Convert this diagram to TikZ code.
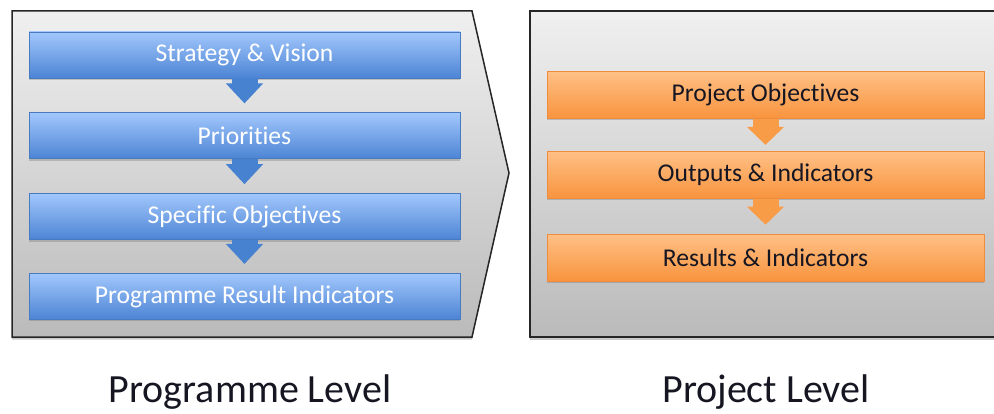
\documentclass[tikz,border=0pt]{standalone}
\usepackage{fontspec}
\setmainfont{Carlito}[Ligatures=NoCommon]
\usetikzlibrary{arrows.meta,positioning,shadows}
\definecolor{bluetop}{RGB}{162,199,252}
\definecolor{bluebot}{RGB}{76,132,212}
\definecolor{blueline}{RGB}{72,122,192}
\definecolor{blueflow}{RGB}{70,130,208}
\definecolor{orangetop}{RGB}{255,192,134}
\definecolor{orangebot}{RGB}{248,148,62}
\definecolor{orangeline}{RGB}{238,140,60}
\definecolor{orangeflow}{RGB}{248,156,72}
\definecolor{lvltext}{RGB}{22,22,34}
\begin{document}
\begin{tikzpicture}[x=1pt,y=-1pt,
    level/.style={draw=black!85, line width=1.5pt, top color=black!6, bottom color=black!27,
      drop shadow={shadow xshift=0pt, shadow yshift=-2.5pt, opacity=.35, fill=black!60}},
    box/.style={line width=.8pt, minimum height=46pt, inner sep=0pt,
      font=\fontsize{25.6}{30}\selectfont,
      drop shadow={shadow xshift=0pt, shadow yshift=-2pt, opacity=.3, fill=black!60}},
    bluebox/.style={box, draw=blueline, top color=bluetop, bottom color=bluebot,
      minimum width=431pt, text=white},
    orangebox/.style={box, draw=orangeline, top color=orangetop, bottom color=orangebot,
      minimum width=437pt, minimum height=47pt, text=lvltext},
    blueflow/.style={draw=blueflow, line width=26pt, -{Triangle[width=36pt,length=20pt]}},
    orangeflow/.style={draw=orangeflow, line width=26pt, -{Triangle[width=36pt,length=18pt]}},
    lvl/.style={anchor=base, text=lvltext, font=\fontsize{40}{48}\selectfont}]
  \useasboundingbox (0,0) rectangle (994,414);
  % the two level frames
  \filldraw[level] (12,11) -- (472,11) -- (509,173) -- (472,337) -- (12,337) -- cycle;
  \filldraw[level] (530,11) rectangle (1000,337);
  % programme level
  \node[bluebox] (sv) at (244.5,55) {Strategy \& Vision};
  \node[bluebox, below=34pt of sv] (pri) {Priorities};
  \node[bluebox, below=34pt of pri] (so) {Specific Objectives};
  \node[bluebox, below=33pt of so] (pri2) {Programme Result Indicators};
  \draw[blueflow] (sv.south) -- ([yshift=9pt]pri.north);
  \draw[blueflow] (pri.south) -- ([yshift=9pt]so.north);
  \draw[blueflow] (so.south) -- ([yshift=9pt]pri2.north);
  % project level
  \node[orangebox] (po) at (765.5,95) {Project Objectives};
  \node[orangebox, below=32pt of po] (oi) {Outputs \& Indicators};
  \node[orangebox, below=35pt of oi] (ri) {Results \& Indicators};
  \draw[orangeflow] (po.south) -- ([yshift=6pt]oi.north);
  \draw[orangeflow] (oi.south) -- ([yshift=9pt]ri.north);
  \node[lvl] (pl) at (250,402) {Programme Level};
  \node[lvl] (jl) at (766,402) {Project Level};
\end{tikzpicture}
\end{document}
